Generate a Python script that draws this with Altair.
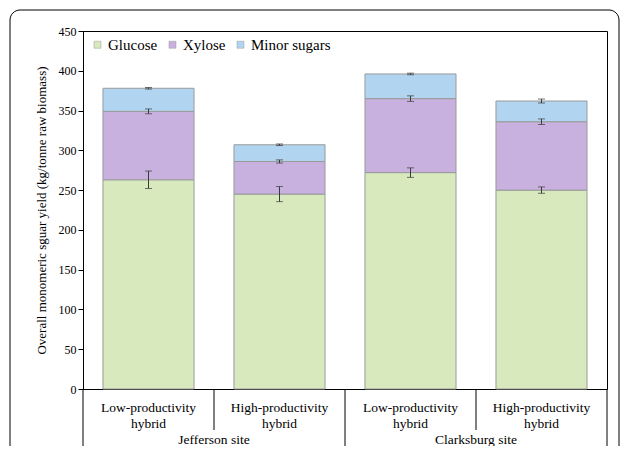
import altair as alt
import pandas as pd

# ---- data ----
keys = ["JL", "JH", "CL", "CH"]
hybrid_line1 = ["Low-productivity", "High-productivity", "Low-productivity", "High-productivity"]
hybrid_line2 = ["hybrid", "hybrid", "hybrid", "hybrid"]
sites = ["Jefferson site", "Clarksburg site"]
site_keys = ["JL", "CL"]          # site label sits at the right end of these bands
sep_short = ["JL", "CL"]          # short separators (right end of band)
sep_long = ["JH", "CH"]           # long separators (right end of band)
sugars = ["Glucose", "Xylose", "Minor sugars"]
glucose = [263, 245, 272, 250]
xylose = [86, 41, 93, 86]
minor = [29, 21, 31, 26]
glucose_err = [11, 9.5, 6, 4]
xylose_err = [3, 2, 3.5, 3.5]
minor_err = [1, 1, 1, 2.5]
colors = ["#d8e9bd", "#c8b1df", "#b1d5f1"]
y_ticks = [0, 50, 100, 150, 200, 250, 300, 350, 400, 450]
y_title = "Overall monomeric sguar yield (kg/tonne raw biomass)"

W, H = 524, 358
FONT = "Liberation Serif, Times New Roman, serif"

# ---- tables ----
series = [glucose, xylose, minor]
errs = [glucose_err, xylose_err, minor_err]
bar_rows, err_rows = [], []
for i, k in enumerate(keys):
    top = 0
    for j, s in enumerate(sugars):
        v = series[j][i]
        top += v
        bar_rows.append({"key": k, "sugar": s, "value": v, "ord": j})
        e = errs[j][i]
        err_rows.append({"key": k, "lo": top - e, "hi": top + e})
bars_df = pd.DataFrame(bar_rows)
err_df = pd.DataFrame(err_rows)
lab_df = pd.DataFrame({"key": keys, "l1": hybrid_line1, "l2": hybrid_line2})
site_df = pd.DataFrame({"key": site_keys, "site": sites})
short_df = pd.DataFrame({"key": sep_short})
long_df = pd.DataFrame({"key": sep_long})
left_df = pd.DataFrame({"key": [keys[0]]})
box_df = pd.DataFrame({"a": [0]})

xscale = alt.Scale(domain=keys, paddingInner=0, paddingOuter=0)
yscale = alt.Scale(domain=[0, 450], nice=False)
yaxis = alt.Axis(values=y_ticks, tickSize=5, tickColor="black",
                 domainColor="black", grid=False,
                 labelFont=FONT, labelFontSize=12, labelColor="black",
                 labelPadding=2,
                 titleFont=FONT, titleFontSize=13, titleFontWeight="normal",
                 titleColor="black", titlePadding=10)


def X(**kw):
    return alt.X("key:N", scale=xscale, axis=None, sort=keys, **kw)


def Y(field, **kw):
    return alt.Y(field, scale=yscale, axis=yaxis, title=y_title, **kw)


bars = alt.Chart(bars_df).mark_bar(
    width=alt.RelativeBandSize(0.695), stroke="#9a9a9a", strokeWidth=1
).encode(
    x=X(),
    y=Y("value:Q", stack="zero"),
    color=alt.Color("sugar:N", scale=alt.Scale(domain=sugars, range=colors),
                    legend=alt.Legend(title=None, orient="none", legendX=7, legendY=6,
                                      direction="horizontal", symbolType="square",
                                      symbolSize=49, symbolStrokeColor="#9a9a9a",
                                      symbolStrokeWidth=0.5,
                                      labelFont=FONT, labelFontSize=15,
                                      labelColor="black", labelOffset=3,
                                      columnPadding=7, padding=0)),
    order=alt.Order("ord:Q"),
)

err_rule = alt.Chart(err_df).mark_rule(color="#3a3a3a", strokeWidth=1).encode(
    x=X(), y=Y("lo:Q"), y2="hi:Q",
)
err_cap = alt.Chart(err_df).transform_fold(["lo", "hi"], as_=["end", "yv"]).mark_tick(
    color="#3a3a3a", thickness=1, size=7, orient="horizontal"
).encode(
    x=X(), y=Y("yv:Q"),
)

short_sep = alt.Chart(short_df).mark_rule(color="black", strokeWidth=1).encode(
    x=X(bandPosition=1), y=alt.value(H), y2=alt.value(H + 41),
)
long_sep = alt.Chart(long_df).mark_rule(color="black", strokeWidth=1).encode(
    x=X(bandPosition=1), y=alt.value(H), y2=alt.value(H + 150),
)
left_sep = alt.Chart(left_df).mark_rule(color="black", strokeWidth=1).encode(
    x=X(bandPosition=0), y=alt.value(H), y2=alt.value(H + 150),
)

hyb_text1 = alt.Chart(lab_df).mark_text(
    font=FONT, fontSize=13.5, baseline="middle", color="black"
).encode(
    x=X(), y=alt.value(H + 19), text="l1:N",
)
hyb_text2 = alt.Chart(lab_df).mark_text(
    font=FONT, fontSize=13.5, baseline="middle", color="black"
).encode(
    x=X(), y=alt.value(H + 35), text="l2:N",
)
site_text = alt.Chart(site_df).mark_text(
    font=FONT, fontSize=13.5, baseline="alphabetic", color="black"
).encode(
    x=X(bandPosition=1), y=alt.value(H + 55), text="site:N",
)

box = alt.Chart(box_df).mark_rect(
    fillOpacity=0, stroke="black", strokeWidth=1, cornerRadius=10
).encode(
    x=alt.value(-73), x2=alt.value(536), y=alt.value(-21), y2=alt.value(H + 150),
)

chart = alt.layer(
    bars, err_rule, err_cap, short_sep, long_sep, left_sep,
    hyb_text1, hyb_text2, site_text, box
).properties(
    width=W, height=H,
    background="white",
    autosize=alt.AutoSizeParams(type="none"),
    padding={"left": 75, "top": 23, "right": 14, "bottom": 57},
).configure_view(
    stroke="black", strokeWidth=1
)

chart.save("out.html", embed_options={"renderer": "svg", "actions": False})
